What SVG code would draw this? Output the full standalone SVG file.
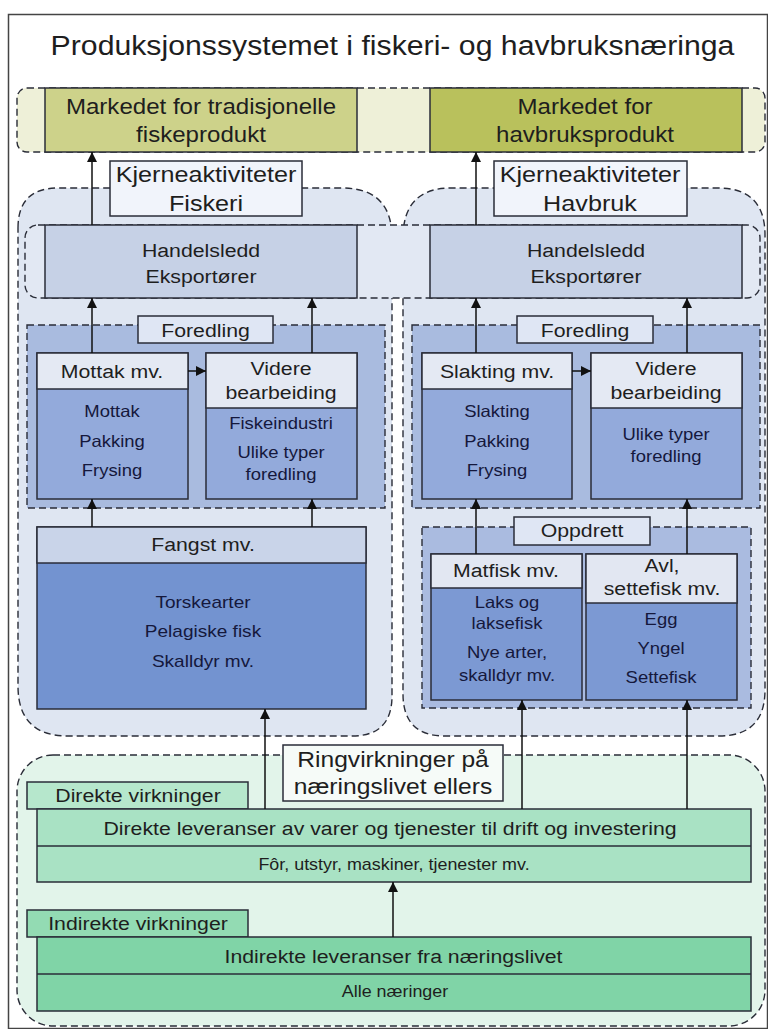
<svg xmlns="http://www.w3.org/2000/svg" width="768" height="1029" viewBox="0 0 768 1029">
<defs>
<style>
.t{font-family:'Liberation Sans',Arial,sans-serif;text-anchor:middle;fill:#1e1e1e}
.b{fill:#15183c}
.box{stroke:#2a2d38;stroke-width:1.5}
.dash{stroke:#2a2d38;stroke-width:1.4;stroke-dasharray:7 4}
.con{stroke:#111;stroke-width:1.5;fill:none;marker-end:url(#ah)}
</style>
<marker id="ah" markerUnits="userSpaceOnUse" markerWidth="10" markerHeight="11" refX="10" refY="5" orient="auto" viewBox="0 0 10 10">
<path d="M0,0 L10,5 L0,10 z" fill="#111"/>
</marker>
</defs>
<rect x="0" y="0" width="768" height="1029" fill="#fff"/>
<rect x="8.5" y="14.5" width="759" height="1014" fill="none" stroke="#444" stroke-width="1.5"/>
<text class="t" font-size="27" transform="translate(392.5,55) scale(1.12,1)">Produksjonssystemet i fiskeri- og havbruksnæringa</text>

<g id="market-band">
<rect x="17" y="88" width="748" height="64" rx="10" fill="#eef0d8" class="dash"/>
</g>
<g id="market-trad">
<rect x="45" y="88" width="312" height="64" fill="#cdd28a" class="box"/>
<text class="t" font-size="21.5" transform="translate(201,114) scale(1.12,1)"><tspan x="0" y="0">Markedet for tradisjonelle</tspan><tspan x="0" y="28">fiskeprodukt</tspan></text>
</g>
<g id="market-havbruk">
<rect x="430" y="88" width="312" height="64" fill="#b9c15c" class="box"/>
<text class="t" font-size="21.5" transform="translate(585,114) scale(1.12,1)"><tspan x="0" y="0">Markedet for</tspan><tspan x="0" y="28">havbruksprodukt</tspan></text>
</g>

<g id="region-fiskeri">
<path d="M18,228 Q18,188 58,188 L342,188 Q392,188 392,238 L392,696 Q392,736 352,736 L68,736 Q18,736 18,686 Z" fill="#dfe6f2" class="dash"/>
</g>
<g id="region-havbruk">
<path d="M403,238 Q403,188 451,188 L718,188 Q765,188 765,235 L765,690 Q765,736 719,736 L445,736 Q403,736 403,694 Z" fill="#dfe6f2" class="dash"/>
</g>

<g id="kjerne-fiskeri">
<rect x="110" y="161" width="192" height="55" fill="#f1f4fb" class="box"/>
<text class="t" font-size="22.5" transform="translate(206,182) scale(1.12,1)"><tspan x="0" y="0">Kjerneaktiviteter</tspan><tspan x="0" y="29">Fiskeri</tspan></text>
</g>
<g id="kjerne-havbruk">
<rect x="494" y="161" width="193" height="55" fill="#f1f4fb" class="box"/>
<text class="t" font-size="22.5" transform="translate(590,182) scale(1.12,1)"><tspan x="0" y="0">Kjerneaktiviteter</tspan><tspan x="0" y="29">Havbruk</tspan></text>
</g>

<g id="handel-band">
<rect x="25" y="225" width="735" height="73" rx="13" fill="#e2e8f3" class="dash"/>
</g>
<g id="handel-fiskeri">
<rect x="45" y="225" width="312" height="73" fill="#c6d1e6" class="box"/>
<text class="t" font-size="19" transform="translate(201,257) scale(1.12,1)"><tspan x="0" y="0">Handelsledd</tspan><tspan x="0" y="26">Eksportører</tspan></text>
</g>
<g id="handel-havbruk">
<rect x="430" y="225" width="312" height="73" fill="#c6d1e6" class="box"/>
<text class="t" font-size="19" transform="translate(586,257) scale(1.12,1)"><tspan x="0" y="0">Handelsledd</tspan><tspan x="0" y="26">Eksportører</tspan></text>
</g>

<g id="foredling-fiskeri">
<rect x="27" y="325" width="358" height="183" fill="#a9bbdf" class="dash"/>
<rect x="138" y="316" width="135" height="27" fill="#dfe6f4" class="box"/>
<text class="t" font-size="19" transform="translate(205.5,337) scale(1.12,1)">Foredling</text>
</g>
<g id="mottak">
<rect x="37" y="353" width="151" height="146" fill="#93aadb" class="box"/>
<rect x="37" y="353" width="151" height="36" fill="#e4e9f3" class="box"/>
<text class="t" font-size="19" transform="translate(112,378) scale(1.12,1)">Mottak mv.</text>
<text class="t b" font-size="16.5" transform="translate(112,417) scale(1.12,1)"><tspan x="0" y="0">Mottak</tspan><tspan x="0" y="30">Pakking</tspan><tspan x="0" y="59">Frysing</tspan></text>
</g>
<g id="videre-fiskeri">
<rect x="206" y="353" width="151" height="146" fill="#93aadb" class="box"/>
<rect x="206" y="353" width="151" height="55" fill="#e4e9f3" class="box"/>
<text class="t" font-size="19" transform="translate(281,375) scale(1.12,1)"><tspan x="0" y="0">Videre</tspan><tspan x="0" y="24">bearbeiding</tspan></text>
<text class="t b" font-size="16.5" transform="translate(281,429) scale(1.12,1)"><tspan x="0" y="0">Fiskeindustri</tspan><tspan x="0" y="29">Ulike typer</tspan><tspan x="0" y="51">foredling</tspan></text>
</g>

<g id="fangst">
<rect x="37" y="527" width="329" height="182" fill="#7393d0" class="box"/>
<rect x="37" y="527" width="329" height="36" fill="#c9d4e9" class="box"/>
<text class="t" font-size="19" transform="translate(203,551) scale(1.12,1)">Fangst mv.</text>
<text class="t b" font-size="17" transform="translate(203,608) scale(1.12,1)"><tspan x="0" y="0">Torskearter</tspan><tspan x="0" y="29">Pelagiske fisk</tspan><tspan x="0" y="59">Skalldyr mv.</tspan></text>
</g>

<g id="foredling-havbruk">
<rect x="412" y="325" width="348" height="183" fill="#a9bbdf" class="dash"/>
<rect x="517" y="316" width="136" height="27" fill="#dfe6f4" class="box"/>
<text class="t" font-size="19" transform="translate(585,337) scale(1.12,1)">Foredling</text>
</g>
<g id="slakting">
<rect x="422" y="353" width="150" height="146" fill="#93aadb" class="box"/>
<rect x="422" y="353" width="150" height="36" fill="#e4e9f3" class="box"/>
<text class="t" font-size="19" transform="translate(497,378) scale(1.12,1)">Slakting mv.</text>
<text class="t b" font-size="16.5" transform="translate(497,417) scale(1.12,1)"><tspan x="0" y="0">Slakting</tspan><tspan x="0" y="30">Pakking</tspan><tspan x="0" y="59">Frysing</tspan></text>
</g>
<g id="videre-havbruk">
<rect x="591" y="353" width="151" height="146" fill="#93aadb" class="box"/>
<rect x="591" y="353" width="151" height="55" fill="#e4e9f3" class="box"/>
<text class="t" font-size="19" transform="translate(666,375) scale(1.12,1)"><tspan x="0" y="0">Videre</tspan><tspan x="0" y="24">bearbeiding</tspan></text>
<text class="t b" font-size="16.5" transform="translate(666,440) scale(1.12,1)"><tspan x="0" y="0">Ulike typer</tspan><tspan x="0" y="22">foredling</tspan></text>
</g>

<g id="oppdrett">
<rect x="422" y="527" width="329" height="181" fill="#aabbe0" class="dash"/>
<rect x="514" y="517" width="136" height="28" fill="#dfe6f4" class="box"/>
<text class="t" font-size="19" transform="translate(582,537) scale(1.12,1)">Oppdrett</text>
</g>
<g id="matfisk">
<rect x="431" y="554" width="151" height="146" fill="#7c99d3" class="box"/>
<rect x="431" y="554" width="151" height="34" fill="#e2e7f2" class="box"/>
<text class="t" font-size="19" transform="translate(506,577) scale(1.12,1)">Matfisk mv.</text>
<text class="t b" font-size="16.5" transform="translate(507,608) scale(1.12,1)"><tspan x="0" y="0">Laks og</tspan><tspan x="0" y="21">laksefisk</tspan><tspan x="0" y="50">Nye arter,</tspan><tspan x="0" y="73">skalldyr mv.</tspan></text>
</g>
<g id="avl">
<rect x="586" y="554" width="151" height="146" fill="#7c99d3" class="box"/>
<rect x="586" y="554" width="151" height="49" fill="#e2e7f2" class="box"/>
<text class="t" font-size="19" transform="translate(662,572) scale(1.12,1)"><tspan x="0" y="0">Avl,</tspan><tspan x="0" y="23">settefisk mv.</tspan></text>
<text class="t b" font-size="16.5" transform="translate(661,625) scale(1.12,1)"><tspan x="0" y="0">Egg</tspan><tspan x="0" y="29">Yngel</tspan><tspan x="0" y="58">Settefisk</tspan></text>
</g>

<g id="ringvirkninger">
<rect x="17" y="755" width="748" height="271" rx="36" fill="#e2f4ea" class="dash"/>
<rect x="283" y="745" width="220" height="56" fill="#f6fbf8" class="box"/>
<text class="t" font-size="22" transform="translate(393,767) scale(1.12,1)"><tspan x="0" y="0">Ringvirkninger på</tspan><tspan x="0" y="27">næringslivet ellers</tspan></text>
</g>
<g id="direkte">
<rect x="27" y="782" width="221" height="27" fill="#b6e7cc" class="box"/>
<text class="t" font-size="19" transform="translate(138,802) scale(1.12,1)">Direkte virkninger</text>
<rect x="37" y="809" width="714" height="73" fill="#a9e2c4" class="box"/>
<line x1="37" y1="846" x2="751" y2="846" class="box"/>
<text class="t" font-size="19" transform="translate(390,835) scale(1.12,1)">Direkte leveranser av varer og tjenester til drift og investering</text>
<text class="t" font-size="16" transform="translate(394,870) scale(1.12,1)">Fôr, utstyr, maskiner, tjenester mv.</text>
</g>
<g id="indirekte">
<rect x="27" y="910" width="221" height="27" fill="#93dbb3" class="box"/>
<text class="t" font-size="19" transform="translate(138,930) scale(1.12,1)">Indirekte virkninger</text>
<rect x="37" y="937" width="714" height="74" fill="#80d4a7" class="box"/>
<line x1="37" y1="974" x2="751" y2="974" class="box"/>
<text class="t" font-size="19" transform="translate(393.5,963) scale(1.12,1)">Indirekte leveranser fra næringslivet</text>
<text class="t" font-size="16" transform="translate(395,997) scale(1.12,1)">Alle næringer</text>
</g>

<g id="connectors">
<line x1="92" y1="225" x2="92" y2="152" class="con"/>
<line x1="476" y1="225" x2="476" y2="152" class="con"/>
<line x1="92" y1="353" x2="92" y2="298" class="con"/>
<line x1="312" y1="353" x2="312" y2="298" class="con"/>
<line x1="476" y1="353" x2="476" y2="298" class="con"/>
<line x1="687" y1="353" x2="687" y2="298" class="con"/>
<line x1="188" y1="371" x2="206" y2="371" class="con"/>
<line x1="572" y1="371" x2="591" y2="371" class="con"/>
<line x1="92" y1="527" x2="92" y2="499" class="con"/>
<line x1="312" y1="527" x2="312" y2="499" class="con"/>
<line x1="476" y1="554" x2="476" y2="499" class="con"/>
<line x1="687" y1="554" x2="687" y2="499" class="con"/>
<line x1="265" y1="809" x2="265" y2="709" class="con"/>
<line x1="522" y1="809" x2="522" y2="700" class="con"/>
<line x1="687" y1="809" x2="687" y2="700" class="con"/>
<line x1="393" y1="937" x2="393" y2="882" class="con"/>
</g>
</svg>
